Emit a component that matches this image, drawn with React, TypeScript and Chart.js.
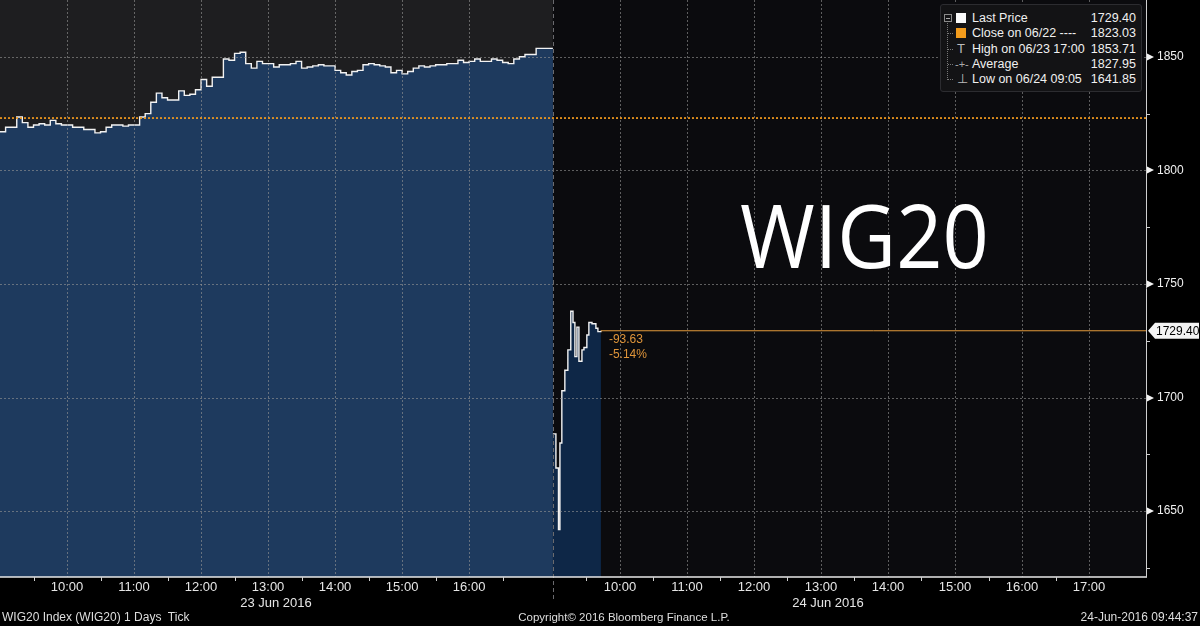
import { useEffect, useRef } from "react"
import { Chart, registerables } from "chart.js"

Chart.register(...registerables)

const FONT = "'Liberation Sans', Arial, sans-serif"

// x axis = trading minutes. 23 Jun runs 09:00-17:15 (0-495), 24 Jun starts at 495
const day2Start = 495
const xMax = 1026

// 23 Jun, one price every 5 minutes from 09:00 to 17:00
const day1Prices = [
  1817, 1819, 1819, 1823.5, 1821, 1819, 1820, 1820.5, 1820, 1822,
  1820.5, 1820, 1820, 1819, 1819, 1818, 1818, 1816.5, 1817, 1819,
  1820, 1820, 1819.5, 1820, 1820, 1823.5, 1825, 1830, 1834, 1832,
  1831, 1831, 1835, 1833, 1833.5, 1835.5, 1840, 1837, 1841, 1841,
  1849, 1848.5, 1851.5, 1852, 1847, 1845, 1848, 1847, 1847, 1845.5,
  1846.5, 1846.5, 1847, 1848, 1845, 1845.5, 1846, 1846.5, 1846, 1846,
  1844, 1843, 1842, 1843.5, 1844, 1846.5, 1847, 1846.5, 1846, 1845.5,
  1843, 1844, 1842.5, 1843.5, 1845, 1846, 1845.5, 1846, 1846.5, 1846.5,
  1847, 1847, 1848.5, 1847.5, 1848, 1849, 1848, 1848, 1849, 1848.5,
  1847.5, 1847, 1849, 1850, 1851, 1851, 1853.71,
]
const day1Step = 5
const day1CloseMinute = 495
const day1Close = 1853.71

// 24 Jun, minutes after 09:00
const day2Minutes = [0, 2.7, 5, 6.3, 8, 10.7, 13.4, 16, 18, 19.7, 21.5, 23.3, 26, 27.8, 30.4, 32.2, 35, 38.5, 40.3, 43]
const day2Prices = [1684, 1669, 1641.85, 1680, 1703, 1712, 1721, 1738, 1733, 1718, 1731, 1716, 1721, 1722, 1727.5, 1733, 1732.5, 1730.5, 1729, 1729.4]

const prevClose = 1823.03
const lastPrice = 1729.4

const yTicks = [1650, 1700, 1750, 1800, 1850]
const yMinorTicks = [1625, 1675, 1725, 1775, 1825]
const xTickMinutes = [60, 120, 180, 240, 300, 360, 420, 555, 615, 675, 735, 795, 855, 915, 975]
const xTickLabels = [
  "10:00", "11:00", "12:00", "13:00", "14:00", "15:00", "16:00",
  "10:00", "11:00", "12:00", "13:00", "14:00", "15:00", "16:00", "17:00",
]
const xHalfHours = [30, 90, 150, 210, 270, 330, 390, 450, 525, 585, 645, 705, 765, 825, 885, 945]

const legendRows = [
  { label: "Last Price", value: "1729.40" },
  { label: "Close on 06/22 ----", value: "1823.03" },
  { label: "High on 06/23 17:00", value: "1853.71" },
  { label: "Average", value: "1827.95" },
  { label: "Low on 06/24 09:05", value: "1641.85" },
]

function line(ctx: CanvasRenderingContext2D, x1: number, y1: number, x2: number, y2: number) {
  ctx.beginPath()
  ctx.moveTo(x1, y1)
  ctx.lineTo(x2, y2)
  ctx.stroke()
}

function noPadding(axis: any) {
  axis.paddingTop = 0
  axis.paddingBottom = 0
  axis.paddingLeft = 0
  axis.paddingRight = 0
}

const terminalPlugin = {
  id: "terminal",
  beforeDatasetsDraw(chart: any) {
    const { ctx, chartArea: a } = chart
    const sep = chart.scales.x.getPixelForValue(day2Start)
    ctx.save()
    ctx.fillStyle = "#1e1e20"
    ctx.fillRect(a.left, a.top, sep - a.left, a.bottom - a.top)
    ctx.fillStyle = "#0b0b0e"
    ctx.fillRect(sep, a.top, a.right - sep, a.bottom - a.top)
    ctx.restore()
  },
  afterDatasetDraw(chart: any, args: any) {
    // grid goes over the price fills, under the orange reference lines
    if (args.index !== 2) return
    const { ctx, chartArea: a } = chart
    const { x, y } = chart.scales
    ctx.save()
    ctx.strokeStyle = "rgba(150,150,150,0.6)"
    ctx.lineWidth = 1
    ctx.setLineDash([2, 2])
    yTicks.forEach((v) => {
      const py = Math.round(y.getPixelForValue(v)) + 0.5
      line(ctx, a.left, py, a.right, py)
    })
    xTickMinutes.forEach((m) => {
      const px = Math.round(x.getPixelForValue(m)) + 0.5
      line(ctx, px, a.top, px, a.bottom)
    })
    const sep = Math.round(x.getPixelForValue(day2Start)) + 0.5
    ctx.strokeStyle = "#6a6a6e"
    ctx.setLineDash([4, 3])
    line(ctx, sep, a.top, sep, 600)
    ctx.restore()
  },
  afterDatasetsDraw(chart: any) {
    const { ctx, chartArea: a } = chart
    const { x, y } = chart.scales
    ctx.save()
    // axis lines
    ctx.strokeStyle = "#e8e8e8"
    ctx.lineWidth = 1.5
    line(ctx, a.left, a.bottom, a.right + 1, a.bottom)
    ctx.strokeStyle = "#cfcfcf"
    ctx.lineWidth = 1
    line(ctx, a.right + 0.5, a.top, a.right + 0.5, a.bottom)

    // x half-hour ticks
    ctx.strokeStyle = "#d0d0d0"
    xHalfHours.forEach((m) => {
      const px = Math.round(x.getPixelForValue(m)) + 0.5
      line(ctx, px, a.bottom, px, a.bottom + 4)
    })

    // y tick flags and minor ticks
    ctx.fillStyle = "#f2f2f2"
    yTicks.forEach((v) => {
      const py = Math.round(y.getPixelForValue(v))
      ctx.beginPath()
      ctx.moveTo(a.right + 1, py - 3.5)
      ctx.lineTo(a.right + 8, py)
      ctx.lineTo(a.right + 1, py + 3.5)
      ctx.closePath()
      ctx.fill()
    })
    yMinorTicks.forEach((v) => {
      const py = Math.round(y.getPixelForValue(v)) + 0.5
      line(ctx, a.right, py, a.right + 4, py)
    })

    // last price badge
    const by = y.getPixelForValue(lastPrice)
    ctx.fillStyle = "#f4f4f4"
    ctx.beginPath()
    ctx.moveTo(a.right + 2, by)
    ctx.lineTo(a.right + 9, by - 8)
    ctx.lineTo(1199, by - 8)
    ctx.lineTo(1199, by + 8)
    ctx.lineTo(a.right + 9, by + 8)
    ctx.closePath()
    ctx.fill()
    ctx.fillStyle = "#000"
    ctx.font = `12px ${FONT}`
    ctx.textAlign = "left"
    ctx.textBaseline = "middle"
    ctx.fillText(lastPrice.toFixed(2), a.right + 10, by + 1)

    // change vs previous close
    const change = lastPrice - prevClose
    const pct = (change / prevClose) * 100
    const lx = x.getPixelForValue(day2Start + day2Minutes[day2Minutes.length - 1]) + 8
    ctx.fillStyle = "#e0953a"
    ctx.font = `12px ${FONT}`
    ctx.fillText(change.toFixed(2), lx, by + 9)
    ctx.fillText(pct.toFixed(2) + "%", lx, by + 24)
    ctx.restore()
  },
}

function TerminalChart() {
  const canvasRef = useRef<HTMLCanvasElement>(null)
  const chartRef = useRef<Chart | null>(null)

  useEffect(() => {
    if (!canvasRef.current) return
    if (chartRef.current) chartRef.current.destroy()

    const day1Data = day1Prices.map((p, i) => ({ x: i * day1Step, y: p }))
    day1Data.push({ x: day1CloseMinute, y: day1Close })
    const day2Data = day2Minutes.map((m, i) => ({ x: day2Start + m, y: day2Prices[i] }))
    const lastX = day2Data[day2Data.length - 1].x

    chartRef.current = new Chart(canvasRef.current, {
      type: "line",
      data: {
        datasets: [
          {
            label: "Close on 06/22",
            data: [{ x: 0, y: prevClose }, { x: xMax, y: prevClose }],
            borderColor: "#f39a1e",
            borderWidth: 1.7,
            borderDash: [2, 2],
            pointRadius: 0,
            fill: false,
          },
          {
            label: "Last",
            data: [{ x: lastX, y: lastPrice }, { x: xMax, y: lastPrice }],
            borderColor: "#e39a3b",
            borderWidth: 1,
            pointRadius: 0,
            fill: false,
          },
          {
            label: "24 Jun",
            data: day2Data,
            stepped: true,
            borderColor: "#f2f2f2",
            borderWidth: 1.4,
            backgroundColor: "#0e2747",
            fill: "start",
            pointRadius: 0,
          },
          {
            label: "23 Jun",
            data: day1Data,
            stepped: true,
            borderColor: "#f2f2f2",
            borderWidth: 1.4,
            backgroundColor: "#1e3a5e",
            fill: "start",
            pointRadius: 0,
          },
        ],
      },
      options: {
        animation: false,
        responsive: false,
        devicePixelRatio: 1,
        layout: { padding: 0 },
        plugins: {
          legend: { display: false },
          tooltip: { enabled: false },
        },
        scales: {
          x: {
            type: "linear",
            min: 0,
            max: xMax,
            afterBuildTicks: (axis: any) => {
              axis.ticks = xTickMinutes.map((value) => ({ value }))
            },
            afterFit: (axis: any) => {
              axis.height = 49
              noPadding(axis)
            },
            ticks: {
              autoSkip: false,
              maxRotation: 0,
              padding: 3,
              color: "#e6e6e6",
              font: { family: FONT, size: 13 },
              callback: (v: any) => xTickLabels[xTickMinutes.indexOf(Number(v))] ?? "",
            },
            grid: { display: false, drawTicks: false },
            border: { display: false },
          },
          y: {
            position: "right",
            min: 1621,
            max: 1875,
            afterBuildTicks: (axis: any) => {
              axis.ticks = yTicks.map((value) => ({ value }))
            },
            afterFit: (axis: any) => {
              axis.width = 54
              noPadding(axis)
            },
            ticks: {
              padding: 11,
              color: "#f0f0f0",
              font: { family: FONT, size: 12 },
              callback: (v: any) => String(v),
            },
            grid: { display: false, drawTicks: false },
            border: { display: false },
          },
        },
      },
      plugins: [terminalPlugin],
    })

    return () => {
      if (chartRef.current) {
        chartRef.current.destroy()
        chartRef.current = null
      }
    }
  }, [])

  return (
    <canvas
      ref={canvasRef}
      width={1200}
      height={626}
      style={{ position: "absolute", left: 0, top: 0, width: 1200, height: 626 }}
    />
  )
}

function Legend() {
  const rowTop = (i: number) => 6 + i * 15.3
  const text = { position: "absolute" as const, fontSize: 12.5, lineHeight: "16px", color: "#f0f0f0", whiteSpace: "pre" as const }
  return (
    <div style={{ position: "absolute", left: 940, top: 4, width: 202, height: 88 }}>
      <div
        style={{
          position: "absolute",
          inset: 0,
          background: "#131315",
          border: "1px solid #2c2c30",
          borderRadius: 3,
        }}
      />
      {/* tree */}
      <div style={{ position: "absolute", left: 4, top: 10, width: 6, height: 6, border: "1px solid #8a8a8a" }}>
        <div style={{ position: "absolute", left: 1, top: 2.5, width: 4, height: 1, background: "#aaa" }} />
      </div>
      <div style={{ position: "absolute", left: 7, top: 19, width: 0, height: 57, borderLeft: "1px dotted #777" }} />
      {[1, 2, 3, 4].map((i) => (
        <div
          key={i}
          style={{ position: "absolute", left: 8, top: rowTop(i) + 8, width: 5, borderTop: "1px dotted #777" }}
        />
      ))}
      {/* icons */}
      <div style={{ position: "absolute", left: 16, top: rowTop(0) + 3, width: 10, height: 10, background: "#fafafa" }} />
      <div style={{ position: "absolute", left: 16, top: rowTop(1) + 3, width: 10, height: 10, background: "#f29b1c" }} />
      <div style={{ position: "absolute", left: 17, top: rowTop(2), fontSize: 13, lineHeight: "16px", color: "#bbb" }}>T</div>
      <div style={{ position: "absolute", left: 15, top: rowTop(3), fontSize: 11, lineHeight: "16px", color: "#aaa" }}>-+-</div>
      <div style={{ position: "absolute", left: 17, top: rowTop(4), fontSize: 13, lineHeight: "16px", color: "#bbb" }}>⊥</div>
      {legendRows.map((r, i) => (
        <div key={r.label}>
          <div style={{ ...text, left: 32, top: rowTop(i) }}>{r.label}</div>
          <div style={{ ...text, right: 6, top: rowTop(i) }}>{r.value}</div>
        </div>
      ))}
    </div>
  )
}

export default function App() {
  const label = { position: "absolute" as const, fontSize: 13, lineHeight: "16px", color: "#e6e6e6", whiteSpace: "pre" as const }
  const foot = { position: "absolute" as const, top: 609, fontSize: 12, lineHeight: "16px", color: "#dedede", whiteSpace: "pre" as const }
  return (
    <div
      style={{
        position: "fixed",
        left: 0,
        top: 0,
        width: 1200,
        height: 626,
        background: "#000",
        overflow: "hidden",
        fontFamily: FONT,
      }}
    >
      <TerminalChart />
      <div
        style={{
          position: "absolute",
          left: 740,
          top: 190,
          fontFamily: "'Open Sans', sans-serif",
          fontSize: 88,
          lineHeight: "88px",
          color: "#fff",
          transform: "scaleX(0.92)",
          transformOrigin: "left top",
        }}
      >
        WIG20
      </div>
      <Legend />
      <div style={{ ...label, left: 276, top: 595, transform: "translateX(-50%)" }}>23 Jun 2016</div>
      <div style={{ ...label, left: 828, top: 595, transform: "translateX(-50%)" }}>24 Jun 2016</div>
      <div style={{ ...foot, left: 2 }}>WIG20 Index (WIG20) 1 Days  Tick</div>
      <div style={{ ...foot, left: 624, fontSize: 11.5, transform: "translateX(-50%)" }}>Copyright© 2016 Bloomberg Finance L.P.</div>
      <div style={{ ...foot, right: 2 }}>24-Jun-2016 09:44:37</div>
    </div>
  )
}
